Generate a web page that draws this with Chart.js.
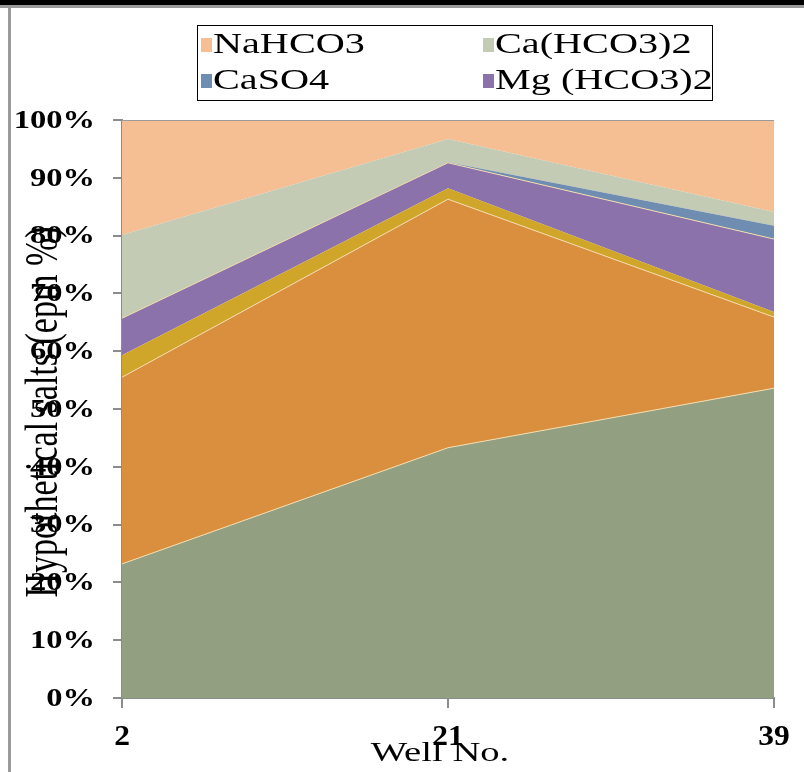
<!DOCTYPE html>
<html>
<head>
<meta charset="utf-8">
<script src="https://cdn.jsdelivr.net/npm/chart.js@4"></script>
<style>
  html, body { margin: 0; padding: 0; background: #fff; }
  #wrap { width: 804px; height: 772px; position: relative; }
</style>
</head>
<body>
<div id="wrap"><canvas id="saltsChart" width="804" height="772"></canvas></div>
<script>
// wells along the x axis
const wells = ['2', '21', '39'];

// stacked percentages, bottom layer first (epm %)
const naCl      = [23.2, 43.3, 53.6];
const na2so4    = [32.3, 43.0, 12.3];
const mgSo4     = [3.8, 1.9, 0.9];
const mgHco3    = [6.4, 4.4, 12.6];
const caSo4     = [0.0, 0.1, 2.3];
const caHco3    = [14.4, 4.0, 2.4];
const naHco3    = [19.9, 3.3, 15.9];

const seriesNames  = ['NaCl', 'Na2SO4', 'MgSO4', 'Mg (HCO3)2', 'CaSO4', 'Ca(HCO3)2', 'NaHCO3'];
const seriesColors = ['#929f80', '#d98f3d', '#cfa52a', '#8b72aa', '#6f8db0', '#c4cbb4', '#f6be93'];
const seriesData   = [naCl, na2so4, mgSo4, mgHco3, caSo4, caHco3, naHco3];

// only these show up in the (cropped) legend
const legendNames = ['NaHCO3', 'Ca(HCO3)2', 'CaSO4', 'Mg (HCO3)2'];
const yTicks = [0, 10, 20, 30, 40, 50, 60, 70, 80, 90, 100];

const AXIS_GREY = '#8c8c8c';

// the original picture is stretched sideways, so text is drawn wider than normal
function drawStretched(ctx, text, x, y, font, align, sx, rotate) {
    ctx.save();
    ctx.font = font;
    ctx.fillStyle = '#000';
    ctx.textAlign = align;
    ctx.textBaseline = 'middle';
    ctx.translate(x, y);
    ctx.scale(sx, 1);
    if (rotate) ctx.rotate(-Math.PI / 2);
    ctx.fillText(text, 0, 0);
    ctx.restore();
}

const extras = {
    id: 'extras',
    beforeDraw(chart) {
        const ctx = chart.ctx;
        ctx.save();
        ctx.fillStyle = '#fff';
        ctx.fillRect(0, 0, chart.width, chart.height);
        // frame left over from the screenshot
        ctx.fillStyle = '#000';
        ctx.fillRect(0, 0, chart.width, 5);
        ctx.fillStyle = '#9a9a9a';
        ctx.fillRect(0, 5, chart.width, 3);
        ctx.fillRect(8, 5, 3, chart.height - 5);
        ctx.restore();
    },
    afterDraw(chart) {
        const ctx = chart.ctx;
        const xs = chart.scales.x;
        const ys = chart.scales.y;

        // y tick labels
        yTicks.forEach(v => {
            drawStretched(ctx, v + '%', 95, ys.getPixelForValue(v) + 1, 'bold 26px "Liberation Serif"', 'right', 1.25);
        });
        // x tick labels
        wells.forEach((w, i) => {
            drawStretched(ctx, w, xs.getPixelForValue(i), 737, 'bold 30px "Liberation Serif"', 'center', 1.05);
        });

        // axis titles
        drawStretched(ctx, 'Hypothetical salts (epm %)', 45, 412, '34px "Liberation Serif"', 'center', 1.38, true);
        drawStretched(ctx, 'Well No.', 440, 754, '28px "Liberation Serif"', 'center', 1.38);

        // legend box
        ctx.save();
        ctx.strokeStyle = '#000';
        ctx.lineWidth = 1;
        ctx.strokeRect(197.5, 25.5, 515, 75);
        ctx.restore();
        const cols = [201, 483];
        const rows = [45, 81];
        legendNames.forEach((name, i) => {
            const idx = seriesNames.indexOf(name);
            const x = cols[i % 2];
            const y = rows[Math.floor(i / 2)];
            ctx.fillStyle = seriesColors[idx];
            ctx.fillRect(x, y - 7, 11, 14);
            drawStretched(ctx, name, x + 12, y, '30px "Liberation Serif"', 'left', 1.34);
        });
    }
};

const datasets = seriesData.map((data, i) => ({
    label: seriesNames[i],
    data: data,
    backgroundColor: seriesColors[i],
    borderColor: i === 6 ? '#9a9a9a' : '#f3dcae',
    borderWidth: (i <= 1 || i === 3) ? 1 : (i === 6 ? 2 : 0),
    fill: i === 0 ? 'origin' : '-1',
    pointRadius: 0,
    tension: 0
}));

new Chart(document.getElementById('saltsChart').getContext('2d'), {
    type: 'line',
    data: { labels: wells, datasets: datasets },
    options: {
        responsive: false,
        animation: false,
        layout: { padding: { left: 0, right: 30, top: 120, bottom: 0 } },
        plugins: { legend: { display: false }, tooltip: { enabled: false } },
        scales: {
            x: {
                offset: false,
                afterFit: s => { s.height = 74; },
                ticks: { display: false },
                grid: { drawOnChartArea: false, drawTicks: true, tickLength: 10, color: AXIS_GREY, lineWidth: 2 },
                border: { color: AXIS_GREY, width: 2 }
            },
            y: {
                stacked: true,
                min: 0,
                max: 100,
                afterFit: s => { s.width = 122; },
                ticks: { display: false, stepSize: 10 },
                grid: { drawOnChartArea: false, drawTicks: true, tickLength: 9, color: AXIS_GREY, lineWidth: 2 },
                border: { color: AXIS_GREY, width: 2 }
            }
        }
    },
    plugins: [extras]
});
</script>
</body>
</html>
